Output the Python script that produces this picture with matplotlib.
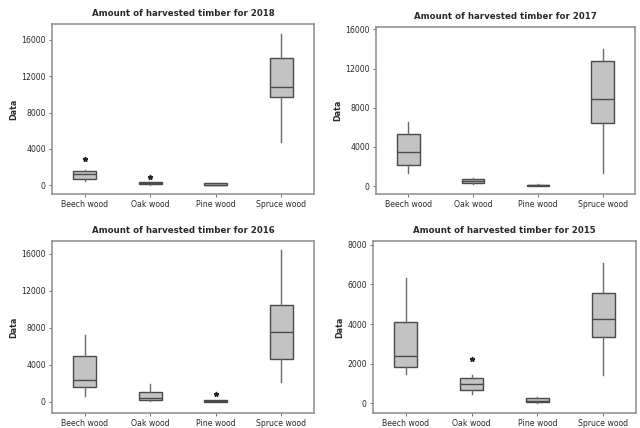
"""Minitab-style box plots of harvested timber per wood type, 2015-2018."""

import matplotlib

matplotlib.use("Agg")
import matplotlib.pyplot as plt

WOODS = ["Beech wood", "Oak wood", "Pine wood", "Spruce wood"]

# five-number summaries, per year, in WOODS order
Y2018_Q1 = [650, 150, 20, 9700]
Y2018_MED = [1250, 250, 80, 10800]
Y2018_Q3 = [1550, 330, 250, 14000]
Y2018_LO = [450, 30, 0, 4750]
Y2018_HI = [1650, 400, 300, 16650]
Y2018_OUT = [[2950], [920], [], []]

Y2017_Q1 = [2170, 370, 0, 6470]
Y2017_MED = [3460, 540, 70, 8880]
Y2017_Q3 = [5290, 710, 140, 12800]
Y2017_LO = [1390, 240, 0, 1320]
Y2017_HI = [6540, 880, 180, 13970]
Y2017_OUT = [[], [], [], []]

Y2016_Q1 = [1580, 250, 40, 4680]
Y2016_MED = [2410, 470, 110, 7590]
Y2016_Q3 = [4930, 1110, 180, 10500]
Y2016_LO = [610, 70, 0, 2160]
Y2016_HI = [7230, 1980, 250, 16430]
Y2016_OUT = [[], [], [900], []]

Y2015_Q1 = [1820, 660, 35, 3320]
Y2015_MED = [2360, 990, 85, 4260]
Y2015_Q3 = [4090, 1250, 235, 5570]
Y2015_LO = [1450, 440, 0, 1400]
Y2015_HI = [6330, 1400, 320, 7090]
Y2015_OUT = [[], [2240], [], []]

YEARS = [2018, 2017, 2016, 2015]
Y_TICKS = {
    2018: [0, 4000, 8000, 12000, 16000],
    2017: [0, 4000, 8000, 12000, 16000],
    2016: [0, 4000, 8000, 12000, 16000],
    2015: [0, 2000, 4000, 6000, 8000],
}
Y_LIMITS = {2018: (-950, 17750), 2017: (-800, 16250), 2016: (-1200, 17400), 2015: (-500, 8200)}

# axes rectangles in pixels: left, top, right, bottom
PANEL_PX = {
    2018: (52, 24, 314, 194),
    2017: (376, 27, 635, 194),
    2016: (52, 241, 314, 413),
    2015: (373, 241, 636, 413),
}

_W, _H = 640, 428
_FILL = "#c3c3c3"
_EDGE = "#4a4a4a"
_FRAME = "#8c8c8c"
_TEXT = "#2a2a2a"

SUMMARIES = {
    2018: (Y2018_Q1, Y2018_MED, Y2018_Q3, Y2018_LO, Y2018_HI, Y2018_OUT),
    2017: (Y2017_Q1, Y2017_MED, Y2017_Q3, Y2017_LO, Y2017_HI, Y2017_OUT),
    2016: (Y2016_Q1, Y2016_MED, Y2016_Q3, Y2016_LO, Y2016_HI, Y2016_OUT),
    2015: (Y2015_Q1, Y2015_MED, Y2015_Q3, Y2015_LO, Y2015_HI, Y2015_OUT),
}


def _stats(year):
    q1, med, q3, lo, hi, out = SUMMARIES[year]
    return [
        dict(label=w, q1=q1[i], med=med[i], q3=q3[i], whislo=lo[i], whishi=hi[i], fliers=out[i])
        for i, w in enumerate(WOODS)
    ]


def _panel(fig, year):
    l, t, r, b = PANEL_PX[year]
    ax = fig.add_axes([l / _W, 1 - b / _H, (r - l) / _W, (b - t) / _H])
    ax.bxp(
        _stats(year),
        positions=range(1, len(WOODS) + 1),
        widths=0.35,
        showcaps=False,
        patch_artist=True,
        boxprops=dict(facecolor=_FILL, edgecolor=_EDGE, linewidth=1.0),
        medianprops=dict(color=_EDGE, linewidth=1.0),
        whiskerprops=dict(color="#6a6a6a", linewidth=1.0),
        flierprops=dict(marker="*", markersize=3.5, markerfacecolor="#222222",
                        markeredgecolor="#222222", linestyle="none"),
    )
    ax.set_xlim(0.5, len(WOODS) + 0.5)
    ax.set_ylim(*Y_LIMITS[year])
    ax.set_yticks(Y_TICKS[year])
    ax.set_xticks(range(1, len(WOODS) + 1))
    ax.set_xticklabels(WOODS)
    ax.tick_params(labelsize=5.6, colors=_TEXT, length=2.5, width=0.6, pad=2)
    ax.tick_params(axis="both", color="#555555")
    for s in ax.spines.values():
        s.set_color(_FRAME)
        s.set_linewidth(1.1)
    ax.set_ylabel("Data", fontsize=5.8, fontweight="bold", color=_TEXT, labelpad=2)
    ax.set_title(f"Amount of harvested timber for {year}", fontsize=6.2,
                 fontweight="bold", color=_TEXT, pad=6)


def main():
    fig = plt.figure(figsize=(_W / 100, _H / 100), dpi=100)
    fig.patch.set_facecolor("white")
    for year in YEARS:
        _panel(fig, year)
    fig.savefig("out.png", dpi=100, facecolor="white")
    plt.close(fig)


if __name__ == "__main__":
    main()
